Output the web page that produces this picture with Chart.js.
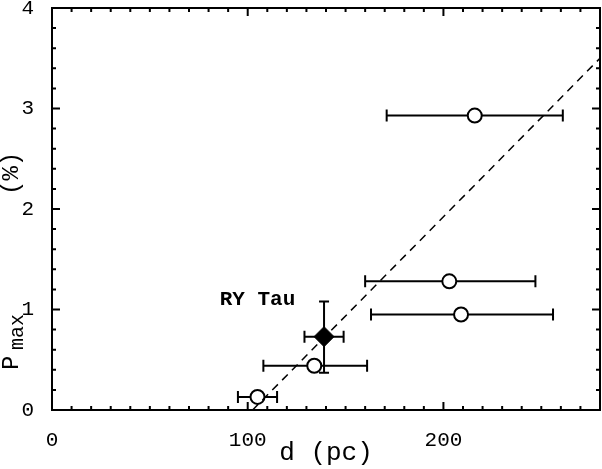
<!DOCTYPE html>
<html>
<head>
<meta charset="utf-8">
<script src="https://cdn.jsdelivr.net/npm/chart.js@4"></script>
<style>
  body { margin: 0; background: #fff; }
  canvas { display: block; }
</style>
</head>
<body>
<canvas id="chart" width="602" height="469"></canvas>
<script>
// open circles: distance (pc), Pmax (%), distance error range
var dist = [105, 134, 203, 209, 216];
var pmax = [0.13, 0.44, 1.28, 0.95, 2.93];
var distLo = [95, 108, 160, 163, 171];
var distHi = [115, 161, 247, 256, 261];

// RY Tau (filled diamond)
var ryDist = [139];
var ryPmax = [0.73];
var ryDistLo = [129];
var ryDistHi = [149];
var ryPmaxLo = [0.37];
var ryPmaxHi = [1.08];

// dashed fit line
var fitX = [102.5, 280];
var fitY = [0, 3.5];

var xTicks = [0, 100, 200];
var yTicks = [0, 1, 2, 3, 4];

var MONO = '"Liberation Mono", "Courier New", monospace';

function pts(xs, ys) {
    return xs.map(function (x, i) { return { x: x, y: ys[i] }; });
}

function hBar(ctx, xs, y, lo, hi) {
    var a = xs.getPixelForValue(lo), b = xs.getPixelForValue(hi);
    ctx.beginPath();
    ctx.moveTo(a, y); ctx.lineTo(b, y);
    ctx.moveTo(a, y - 6); ctx.lineTo(a, y + 6);
    ctx.moveTo(b, y - 6); ctx.lineTo(b, y + 6);
    ctx.stroke();
}

var errorBars = {
    id: "errorBars",
    beforeDatasetsDraw: function (chart) {
        var ctx = chart.ctx, xs = chart.scales.x, ys = chart.scales.y;
        ctx.save();
        ctx.strokeStyle = "#000";
        ctx.lineWidth = 2;
        dist.forEach(function (d, i) {
            hBar(ctx, xs, ys.getPixelForValue(pmax[i]), distLo[i], distHi[i]);
        });
        ryDist.forEach(function (d, i) {
            var py = ys.getPixelForValue(ryPmax[i]);
            hBar(ctx, xs, py, ryDistLo[i], ryDistHi[i]);
            var px = xs.getPixelForValue(d);
            var a = ys.getPixelForValue(ryPmaxLo[i]), b = ys.getPixelForValue(ryPmaxHi[i]);
            ctx.beginPath();
            ctx.moveTo(px, a); ctx.lineTo(px, b);
            ctx.moveTo(px - 5, a); ctx.lineTo(px + 5, a);
            ctx.moveTo(px - 5, b); ctx.lineTo(px + 5, b);
            ctx.stroke();
        });
        ctx.restore();
    }
};

var frame = {
    id: "frame",
    afterDraw: function (chart) {
        var ctx = chart.ctx, a = chart.chartArea;
        var xs = chart.scales.x, ys = chart.scales.y;
        ctx.save();
        ctx.strokeStyle = "#000";
        ctx.lineWidth = 2;
        ctx.beginPath();
        for (var v = 0; v <= 280; v += 10) {
            var px = xs.getPixelForValue(v);
            var len = v % 100 === 0 ? 8 : 4;
            ctx.moveTo(px, a.bottom); ctx.lineTo(px, a.bottom - len);
            ctx.moveTo(px, a.top); ctx.lineTo(px, a.top + len);
        }
        for (var k = 0; k <= 20; k++) {
            var py = ys.getPixelForValue(k * 0.2);
            var l = k % 5 === 0 ? 8 : 4;
            ctx.moveTo(a.left, py); ctx.lineTo(a.left + l, py);
            ctx.moveTo(a.right, py); ctx.lineTo(a.right - l, py);
        }
        ctx.stroke();
        ctx.strokeRect(a.left, a.top, a.right - a.left, a.bottom - a.top);

        // RY Tau label
        ctx.fillStyle = "#000";
        ctx.font = "bold 21px " + MONO;
        ctx.textAlign = "center";
        ctx.textBaseline = "middle";
        ctx.fillText("RY Tau", xs.getPixelForValue(105), ys.getPixelForValue(1.1));

        // y axis title with subscript
        ctx.translate(18, a.bottom);
        ctx.rotate(-Math.PI / 2);
        ctx.textAlign = "left";
        ctx.textBaseline = "alphabetic";
        ctx.font = "24px " + MONO;
        ctx.fillText("P", 40, 0);
        ctx.font = "20px " + MONO;
        ctx.fillText("max", 60, 5);
        ctx.font = "24px " + MONO;
        ctx.fillText("(%)", 215, 0);
        ctx.restore();
    }
};

new Chart(document.getElementById("chart"), {
    type: "scatter",
    data: {
        datasets: [{
            type: "line",
            data: pts(fitX, fitY),
            borderColor: "#000",
            borderWidth: 1.5,
            borderDash: [8, 6],
            pointRadius: 0,
            fill: false,
        }, {
            data: pts(dist, pmax),
            pointStyle: "circle",
            pointRadius: 7,
            backgroundColor: "#fff",
            borderColor: "#000",
            borderWidth: 2,
        }, {
            data: pts(ryDist, ryPmax),
            pointStyle: "rectRot",
            pointRadius: 10,
            backgroundColor: "#000",
            borderColor: "#000",
            borderWidth: 1,
        }],
    },
    options: {
        responsive: false,
        animation: false,
        devicePixelRatio: 1,
        layout: { autoPadding: false, padding: { top: 8, right: 2, left: 0, bottom: 0 } },
        plugins: {
            legend: { display: false },
            tooltip: { enabled: false },
        },
        scales: {
            x: {
                type: "linear",
                min: 0,
                max: 280,
                grid: { display: false },
                border: { display: false },
                afterBuildTicks: function (s) { s.ticks = xTicks.map(function (v) { return { value: v }; }); },
                afterFit: function (s) { s.height = 59; s.paddingLeft = 0; s.paddingRight = 0; },
                ticks: {
                    color: "#000",
                    padding: 10,
                    font: { family: MONO, size: 21 },
                },
                title: {
                    display: true,
                    text: "d (pc)",
                    color: "#000",
                    padding: { top: 0, bottom: 0 },
                    font: { family: MONO, size: 26 },
                },
            },
            y: {
                type: "linear",
                min: 0,
                max: 4,
                grid: { display: false },
                border: { display: false },
                afterBuildTicks: function (s) { s.ticks = yTicks.map(function (v) { return { value: v }; }); },
                afterFit: function (s) { s.width = 52; s.paddingTop = 0; s.paddingBottom = 0; },
                ticks: {
                    color: "#000",
                    padding: 10,
                    font: { family: MONO, size: 21 },
                },
            },
        },
    },
    plugins: [errorBars, frame],
});
</script>
</body>
</html>
